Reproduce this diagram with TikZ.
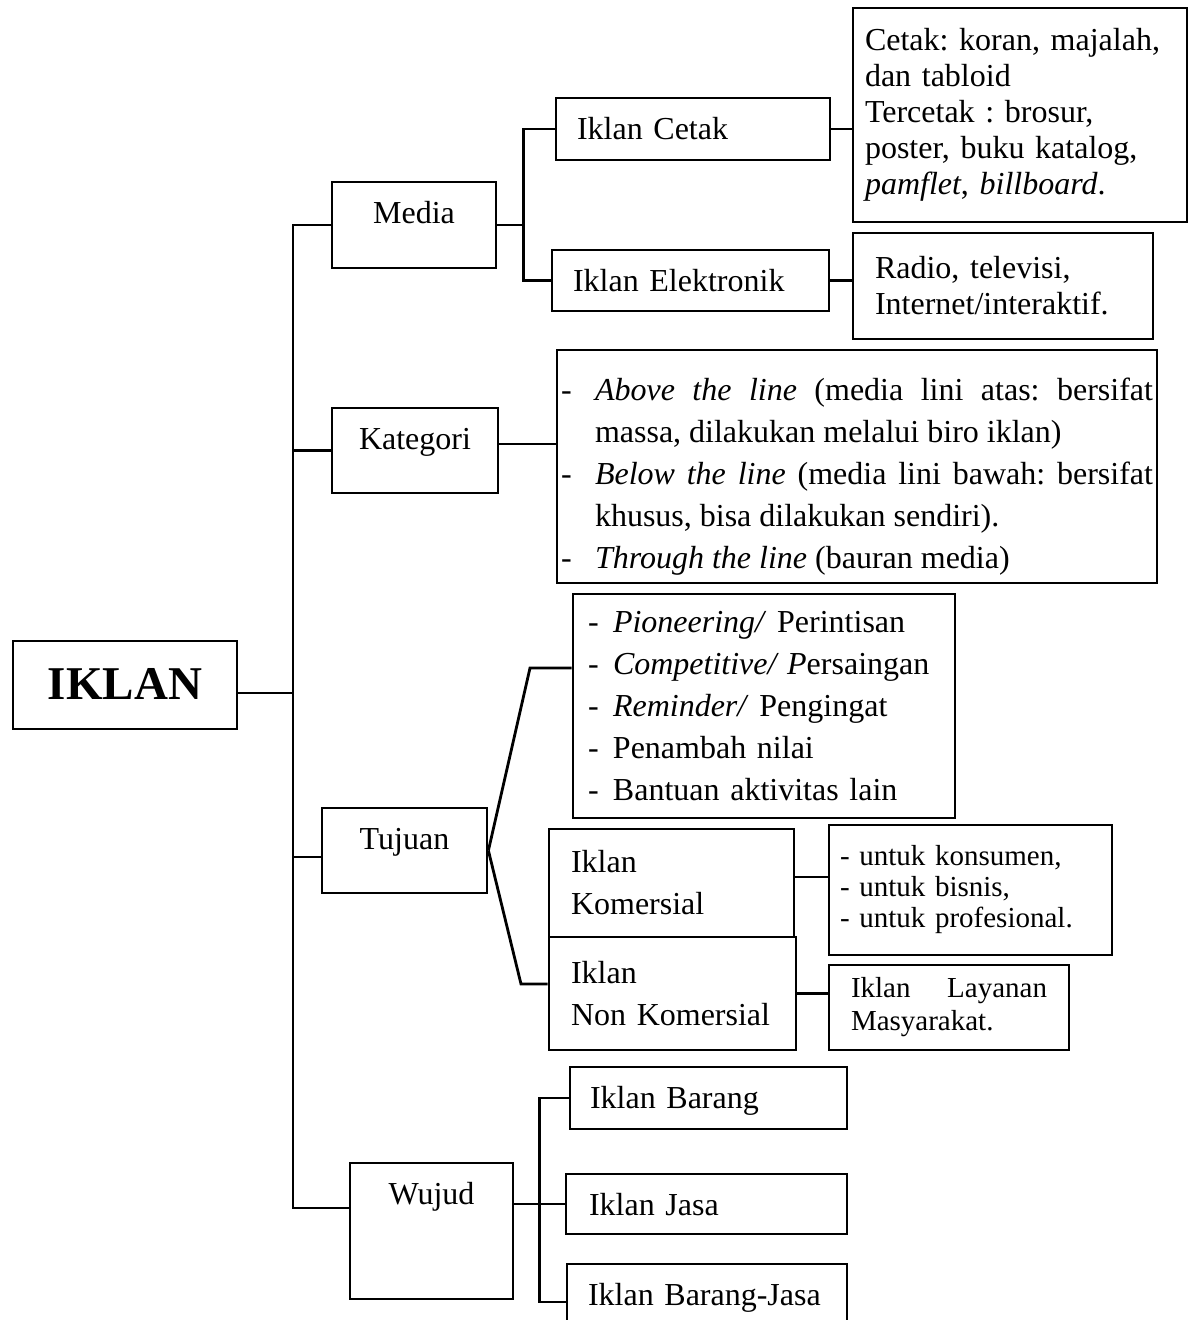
\documentclass[tikz,border=0pt]{standalone}
\usepackage{fontspec}
\setmainfont{Liberation Serif}

\newcommand\butir[1]{\par\noindent\hangindent=34pt\hangafter=1\makebox[34pt][l]{-}#1}
\newcommand\baris[1]{\makebox[25pt][l]{-}#1}

\tikzset{
    garis/.style={line width=2.8pt},
    kotak/.style={draw, line width=2.8pt, inner ysep=0pt, text height=41pt, align=left, font=\fontsize{32}{42}\selectfont},
    isi/.style={draw, line width=2.8pt, inner ysep=0pt, align=left, font=\fontsize{32}{36}\selectfont},
}

\begin{document}
\frenchspacing
\begin{tikzpicture}[x=1pt, y=-1pt]
        \useasboundingbox (0,0) rectangle (1192,1320);

        \node[kotak, font=\fontsize{47}{50}\selectfont\bfseries, text height=58pt, text depth=30pt, minimum width=224pt] (iklan) at (125,685) {IKLAN};

        \node[kotak, minimum width=164pt, text depth=45pt] (media) at (414,225) {Media};
        \node[kotak, minimum width=166pt, text depth=44pt] (kategori) at (415,450.5) {Kategori};
        \node[kotak, minimum width=165pt, text depth=44pt] (tujuan) at (404.5,850.5) {Tujuan};
        \node[kotak, minimum width=163pt, text depth=95pt] (wujud) at (431.5,1231) {Wujud};

        \node[kotak, text width=232pt, inner xsep=21pt, text depth=21pt] (cetak) at (693,129) {Iklan Cetak};
        \node[kotak, text width=235pt, inner xsep=21pt, text depth=20pt] (elektronik) at (690.5,280.5) {Iklan Elektronik};
        \node[isi, text width=310pt, inner xsep=12pt, minimum height=214pt] (cetakisi) at (1020,115)
            {Cetak: koran, majalah,\\dan tabloid\\Tercetak : brosur,\\poster, buku katalog,\\\textit{pamflet}, \textit{billboard}.};
        \node[isi, text width=256pt, inner xsep=22pt, minimum height=106pt] (radioisi) at (1003,286)
            {Radio, televisi,\\Internet/interaktif.};

        \node[isi, align=justify, text width=592pt, inner xsep=4pt, minimum height=233pt, font=\fontsize{32}{42}\selectfont] (kategoriisi) at (857,466.5)
            {\butir{\textit{Above the line} (media lini atas: bersifat\linebreak massa, dilakukan melalui biro iklan)}%
             \butir{\textit{Below the line} (media lini bawah: bersifat\linebreak khusus, bisa dilakukan sendiri).}%
             \butir{\textit{Through the line} (bauran media)}};

        \node[isi, text width=352pt, inner xsep=15pt, minimum height=224pt, font=\fontsize{32}{42}\selectfont] (tujuanisi) at (764,706)
            {\baris{\textit{Pioneering/} Perintisan}\\\baris{\textit{Competitive/ P}ersaingan}\\\baris{\textit{Reminder/} Pengingat}\\\baris{Penambah nilai}\\\baris{Bantuan aktivitas lain}};
        \node[isi, text width=201pt, inner xsep=22pt, minimum height=108pt, font=\fontsize{32}{42}\selectfont] (komersial) at (671.5,883) {Iklan\\Komersial};
        \node[isi, text width=203pt, inner xsep=22pt, minimum height=113pt, font=\fontsize{32}{42}\selectfont] (nonkomersial) at (672.5,993.5) {Iklan\\Non Komersial};
        \node[isi, text width=261pt, inner xsep=11pt, minimum height=130pt, font=\fontsize{29}{31}\selectfont] (untukisi) at (970.5,890)
            {- untuk konsumen,\\- untuk bisnis,\\- untuk profesional.};
        \node[isi, align=justify, text width=196pt, inner xsep=22pt, minimum height=85pt, font=\fontsize{29}{33}\selectfont] (layananisi) at (949,1007.5)
            {Iklan Layanan\linebreak Masyarakat.};

        \node[kotak, text width=237pt, inner xsep=20pt, text depth=21pt] (barang) at (708.5,1098) {Iklan Barang};
        \node[kotak, text width=235pt, inner xsep=23pt, text depth=19pt] (jasa) at (706.5,1204) {Iklan Jasa};
        \node[kotak, text width=238pt, inner xsep=21pt, text depth=35pt] (barangjasa) at (707,1302) {Iklan Barang-Jasa};

        \draw[garis] (iklan.east |- 0,693) -- (293,693);
        \draw[garis] (media.west) -| (293,1208) -- (wujud.west |- 0,1208);
        \draw[garis] (kategori.west -| 293,0) -- (kategori.west);
        \draw[garis] (293,857) -- (tujuan.west |- 0,857);

        \draw[garis] (media.east) -- (525,225);
        \draw[garis] (cetak.west) -- ++(-31,0) |- (elektronik.west);
        \draw[garis] (cetak.east) -- (cetak.east -| cetakisi.west);
        \draw[garis] (elektronik.east) -- (elektronik.east -| radioisi.west);
        \draw[garis] (kategori.east |- 0,444) -- (kategoriisi.west |- 0,444);

        \draw[garis] (tujuan.east) -- (530,668) -- (tujuanisi.west |- 0,668);
        \draw[garis] (tujuan.east) -- (521,984) -- (nonkomersial.west |- 0,984);
        \draw[garis] (komersial.east |- 0,877) -- (untukisi.west |- 0,877);
        \draw[garis] (nonkomersial.east) -- (nonkomersial.east -| layananisi.west);

        \draw[garis] (wujud.east |- jasa.west) -- (jasa.west);
        \draw[garis] (barang.west) -- ++(-29,0) |- (barangjasa.west);
\end{tikzpicture}
\end{document}
